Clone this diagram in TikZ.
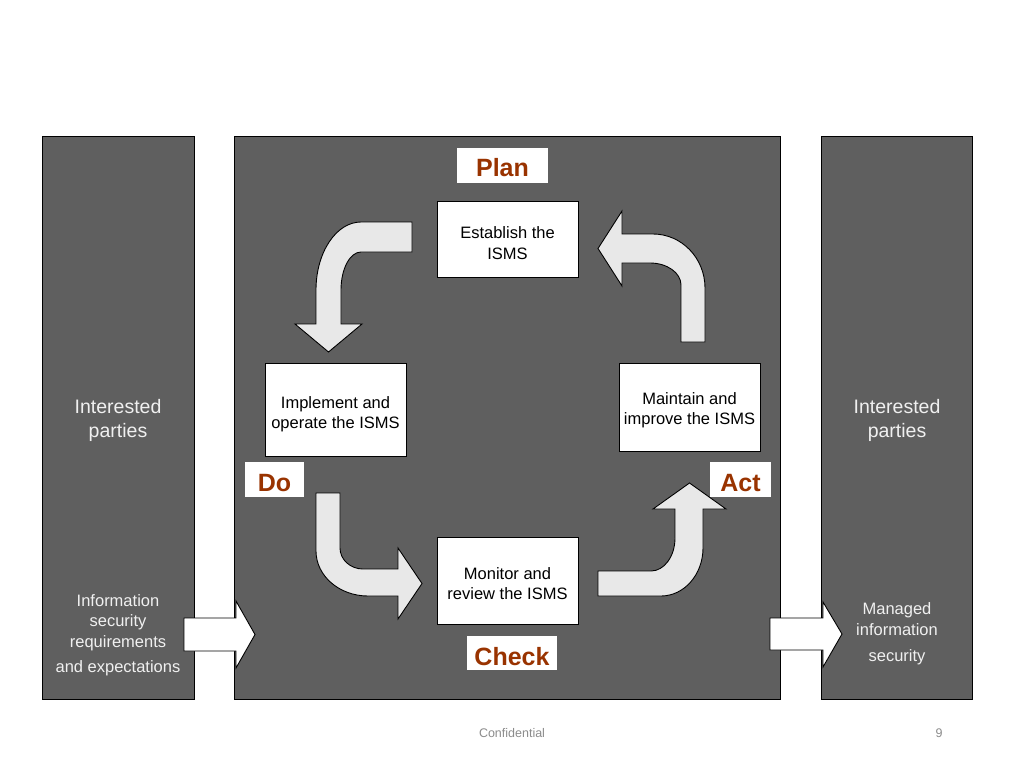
\documentclass[tikz,border=0pt]{standalone}
\usepackage{fontspec}
\setmainfont{Liberation Sans}
\definecolor{panelgray}{HTML}{5F5F5F}
\definecolor{arrowfill}{HTML}{E8E8E8}
\definecolor{phase}{HTML}{993300}
\definecolor{paneltext}{HTML}{F0F0F0}
\definecolor{footergray}{HTML}{8C8C8C}
\begin{document}
\begin{tikzpicture}[x=1pt,y=-1pt,
  panel/.style={draw=black, line width=0.8pt, fill=panelgray, inner sep=0pt},
  stepbox/.style={draw=black, line width=0.8pt, fill=white, inner sep=0pt, minimum width=141pt},
  steptext/.style={inner sep=0pt, align=center, font=\fontsize{16.5}{20.5}\selectfont},
  phasebox/.style={fill=white, inner sep=0pt},
  phasetext/.style={inner sep=0pt, text=phase, font=\fontsize{25}{30}\selectfont\bfseries},
  blockarrow/.style={draw=black, line width=0.9pt, fill=arrowfill, line join=miter},
  whitearrow/.style={draw=black, line width=0.9pt, fill=white, line join=miter},
  sidetext/.style={text=paneltext, align=center, inner sep=0pt},
  footer/.style={text=footergray, inner sep=0pt, font=\fontsize{12.5}{15}\selectfont}
]
\useasboundingbox[fill=white] (0,0) rectangle (1024,768);

% panels
\node[panel, minimum width=152pt, minimum height=563pt] (leftcol) at (118,417.5) {};
\node[panel, minimum width=546pt, minimum height=563pt] (mid) at (507,417.5) {};
\node[panel, minimum width=151pt, minimum height=563pt] (rightcol) at (896.5,417.5) {};

% side texts
\node[sidetext, font=\fontsize{19.5}{24}\selectfont] (ipleft) at (118,420.5) {Interested\\parties};
\node[sidetext, font=\fontsize{19.5}{24}\selectfont] (ipright) at (897,420.5) {Interested\\parties};
\node[sidetext, font=\fontsize{16.5}{20.5}\selectfont] (reqs) at (118,635) {Information\\security\\requirements\\[4.5pt]and expectations};
\node[sidetext, font=\fontsize{16.5}{20.5}\selectfont] (managed) at (897,634) {Managed\\information\\[6pt]security};

% white straight arrows
\draw[whitearrow] (184,618) -- (236,618) -- (236,601) -- (255,634.5) -- (236,668) -- (236,651) -- (184,651) -- cycle;
\draw[whitearrow] (770,618) -- (823,618) -- (823,602) -- (842,634) -- (823,667) -- (823,650) -- (770,650) -- cycle;

% step boxes
\node[stepbox, minimum height=76pt] (establish) at (507.5,239) {};
\node[stepbox, minimum height=93pt] (implement) at (335.5,409.5) {};
\node[stepbox, minimum height=88pt] (maintain) at (689.5,407) {};
\node[stepbox, minimum height=87pt] (monitor) at (507.5,580.5) {};
\node[steptext] (establishtxt) at ([yshift=-4pt]establish.center) {Establish the\\ISMS};
\node[steptext] (implementtxt) at ([yshift=-4.5pt]implement.center) {Implement and\\operate the ISMS};
\node[steptext] (maintaintxt) at ([yshift=-3pt]maintain.center) {Maintain and\\improve the ISMS};
\node[steptext] (monitortxt) at ([yshift=-3pt]monitor.center) {Monitor and\\review the ISMS};

% phase labels
\node[phasebox, minimum width=91pt, minimum height=35pt] (plan) at (502.5,165.5) {};
\node[phasebox, minimum width=59pt, minimum height=35pt] (do) at (274.5,479.5) {};
\node[phasebox, minimum width=61pt, minimum height=35pt] (act) at (740.5,479.5) {};
\node[phasebox, minimum width=90pt, minimum height=34pt] (check) at (512,653) {};
\node[phasetext] (plantxt) at ([yshift=-2.5pt]plan.center) {Plan};
\node[phasetext] (dotxt) at ([yshift=-3.5pt]do.center) {Do};
\node[phasetext] (acttxt) at ([yshift=-3.5pt]act.center) {Act};
\node[phasetext] (checktxt) at ([yshift=-3.5pt]check.center) {Check};

% curved block arrows
% Plan -> Do (top left)
\draw[blockarrow] (412,222) -- (361,222)
  .. controls (336.15,222) and (316,252.44) .. (316,290)
  -- (316,324) -- (295,324) -- (328.5,352) -- (362,324) -- (341,324) -- (341,290)
  .. controls (341,269.01) and (349.95,252) .. (361,252)
  -- (412,252) -- cycle;
% Act -> Plan (top right)
\draw[blockarrow] (681,342) -- (681,285)
  .. controls (681,272.85) and (667.12,263) .. (650,263)
  -- (622,263) -- (622,286) -- (598,248.5) -- (622,211) -- (622,234) -- (653,234)
  .. controls (681.72,234) and (705,258.18) .. (705,288)
  -- (705,342) -- cycle;
% Do -> Check (bottom left)
\draw[blockarrow] (316,493) -- (340,493) -- (340,548)
  .. controls (340,559.6) and (350.3,569) .. (363,569)
  -- (398,569) -- (398,548) -- (422,583.5) -- (398,619) -- (398,596) -- (368,596)
  .. controls (339.28,596) and (316,575.85) .. (316,551)
  -- cycle;
% Check -> Act (bottom right)
\draw[blockarrow] (598,571) -- (651,571)
  .. controls (664.26,571) and (675,556.23) .. (675,538)
  -- (675,509) -- (653,509) -- (689.5,483) -- (726,509) -- (703,509) -- (703,548)
  .. controls (703,574.51) and (684.2,596) .. (661,596)
  -- (598,596) -- cycle;

% footer
\node[footer] (conf) at (512,733) {Confidential};
\node[footer] (page) at (939,733) {9};
\end{tikzpicture}
\end{document}
